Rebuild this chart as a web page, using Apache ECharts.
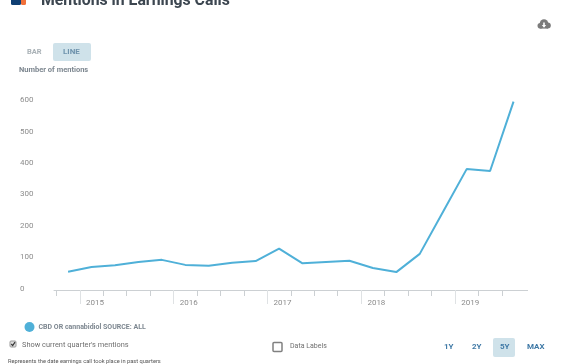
<!DOCTYPE html>
<html>
<head>
<meta charset="utf-8">
<style>
  html, body { margin: 0; padding: 0; background: #fff; }
  #chart { width: 572px; height: 364px; }
</style>
<script src="https://cdn.jsdelivr.net/npm/echarts@6/dist/echarts.min.js"></script>
</head>
<body>
<div id="chart"></div>
<script>
// quarters, first one is the last quarter of 2014
const quarters = ['Q4 2014', 'Q1 2015', 'Q2 2015', 'Q3 2015', 'Q4 2015', 'Q1 2016', 'Q2 2016', 'Q3 2016', 'Q4 2016', 'Q1 2017',
  'Q2 2017', 'Q3 2017', 'Q4 2017', 'Q1 2018', 'Q2 2018', 'Q3 2018', 'Q4 2018', 'Q1 2019', 'Q2 2019', 'Q3 2019'];
const mentions = [58, 73, 79, 89, 96, 80, 77, 87, 92, 132, 85, 89, 93, 70, 57, 115, 250, 385, 379, 600];
const yearLabels = ['2015', '2016', '2017', '2018', '2019'];
const yTicks = [0, 100, 200, 300, 400, 500, 600];
const seriesName = 'CBD OR cannabidiol SOURCE: ALL';

const FONT = 'Roboto';
const BLUE = '#4fb0d8';

// ticks sit on the edges between quarters, the year ones are longer
const edges = quarters.map((q, i) => i - 0.5);
const yearEdges = yearLabels.map((y, i) => 0.5 + i * 4);
const yearLabelPos = yearLabels.map((y, i) => 1.15 + i * 4);

const chart = echarts.init(document.getElementById('chart'), null, { renderer: 'canvas' });

const label = (x, y, text, size, color, weight, extra) => ({
  type: 'text', x, y,
  style: Object.assign({
    text, fontFamily: FONT, fontSize: size, fill: color,
    fontWeight: weight || 'normal', textVerticalAlign: 'middle'
  }, extra || {})
});

const box = (x, y, w, h, fill) => ({
  type: 'rect', shape: { x, y, width: w, height: h, r: 2 }, style: { fill }
});

chart.setOption({
  animation: false,
  backgroundColor: '#fff',
  grid: { left: 54, right: 44.4, top: 85.9, bottom: 74 },
  legend: {
    left: 19.5,
    top: 317,
    icon: 'circle',
    itemWidth: 10,
    itemHeight: 10,
    itemGap: 4,
    textStyle: { fontFamily: FONT, fontSize: 7, fontWeight: 'bold', color: '#7d8790', padding: [0, 0, 0, -1] },
    data: [seriesName]
  },
  xAxis: [
    {
      type: 'value',
      min: -0.6,
      max: 19.6,
      splitLine: { show: false },
      axisLine: { lineStyle: { color: '#ccd0d3', width: 1 } },
      axisTick: { customValues: edges, length: 6, lineStyle: { color: '#ccd0d3' } },
      axisLabel: { show: false }
    },
    {
      type: 'value',
      min: -0.6,
      max: 19.6,
      position: 'bottom',
      splitLine: { show: false },
      axisLine: { show: false },
      axisTick: { customValues: yearEdges, length: 14, lineStyle: { color: '#dfe2e4' } },
      axisLabel: {
        customValues: yearLabelPos,
        formatter: (v) => yearLabels[yearLabelPos.indexOf(v)],
        fontFamily: FONT,
        fontSize: 8,
        color: '#8c8c8c',
        margin: 9
      }
    }
  ],
  yAxis: {
    type: 'value',
    min: 0,
    max: 650,
    splitLine: { show: false },
    axisLine: { show: false },
    axisTick: { show: false },
    axisLabel: {
      customValues: yTicks,
      align: 'left',
      verticalAlign: 'bottom',
      margin: 34,
      fontFamily: FONT,
      fontSize: 8,
      lineHeight: 3,
      color: '#8c8c8c'
    }
  },
  series: [{
    name: seriesName,
    type: 'line',
    xAxisIndex: 0,
    data: mentions.map((v, i) => [i, v]),
    showSymbol: false,
    symbol: 'circle',
    lineStyle: { color: BLUE, width: 2 },
    itemStyle: { color: BLUE }
  }],
  graphic: [
    // header, cut off by the top of the window
    { type: 'rect', shape: { x: 11, y: -6, width: 10, height: 11, r: 1.5 }, style: { fill: '#0f3f73' } },
    { type: 'rect', shape: { x: 21, y: -6, width: 5, height: 11, r: 1.5 }, style: { fill: '#f0703a' } },
    label(41, 1, 'Mentions in Earnings Calls', 15.8, '#3c4650', 'bold'),
    // download icon, a cloud from a few round shapes
    { type: 'circle', shape: { cx: 544, cy: 23.5, r: 4.3 }, style: { fill: '#7b7b7b' } },
    { type: 'circle', shape: { cx: 540.3, cy: 25.8, r: 2.8 }, style: { fill: '#7b7b7b' } },
    { type: 'circle', shape: { cx: 547.8, cy: 25.6, r: 3 }, style: { fill: '#7b7b7b' } },
    { type: 'rect', shape: { x: 540, y: 25, width: 8, height: 3.6 }, style: { fill: '#7b7b7b' } },
    { type: 'polygon', shape: { points: [[541.8, 25], [546.2, 25], [544, 27.8]] }, style: { fill: '#fff' } },
    { type: 'rect', shape: { x: 543.2, y: 22.6, width: 1.6, height: 3 }, style: { fill: '#fff' } },
    // bar / line switch
    label(27, 52, 'BAR', 7.5, '#a9b1b6', 'bold'),
    box(53, 43, 38, 18, '#cfe2ea'),
    label(63, 52, 'LINE', 8, '#6f93ad', 'bold'),
    label(19, 70.5, 'Number of mentions', 7.5, '#7d8790', 'bold'),
    // bottom controls
    { type: 'rect', shape: { x: 10, y: 341, width: 6, height: 6, r: 1 }, style: { fill: '#dcdcdc', stroke: '#9a9a9a', lineWidth: 1 } },
    { type: 'polyline', shape: { points: [[11.3, 344], [12.7, 345.6], [15, 342.2]] }, style: { stroke: '#333', lineWidth: 1.2, fill: 'none' } },
    label(22, 345.5, "Show current quarter's mentions", 7.4, '#6f6f6f'),
    { type: 'rect', shape: { x: 273, y: 342.5, width: 9, height: 9, r: 1 }, style: { fill: '#fff', stroke: '#808080', lineWidth: 1.5 } },
    label(290, 346.5, 'Data Labels', 7, '#6f6f6f'),
    label(8, 361.5, 'Represents the date earnings call took place in past quarters', 5.7, '#555'),
    label(444, 347, '1Y', 8, '#3f79a6', 'bold'),
    label(472, 347, '2Y', 8, '#3f79a6', 'bold'),
    box(493, 338, 22, 19, '#cfe2ea'),
    label(500, 347, '5Y', 8, '#3f79a6', 'bold'),
    label(527, 347, 'MAX', 8, '#3f79a6', 'bold')
  ]
});
</script>
</body>
</html>
